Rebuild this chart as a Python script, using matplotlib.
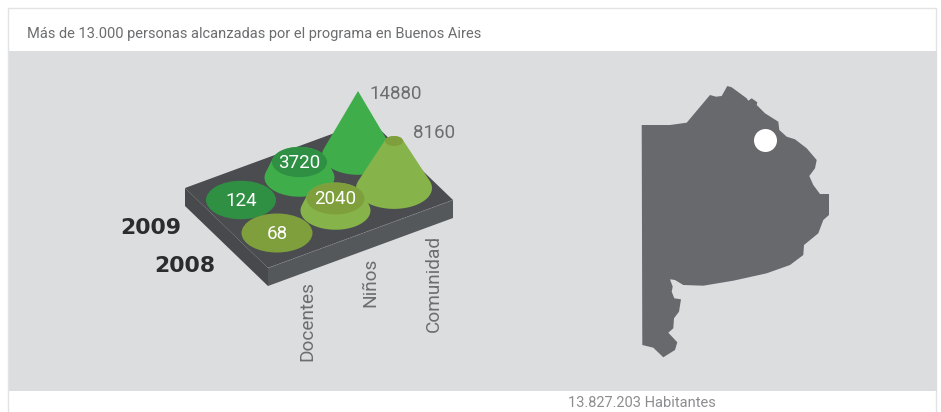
#!/usr/bin/env python3
"""Programa en Buenos Aires: isometric cones per year and group, plus province map"""

import matplotlib
matplotlib.use('Agg')
import matplotlib.pyplot as plt
import matplotlib.patches as patches
import numpy as np

plt.rcParams['font.family'] = ['Roboto', 'Liberation Sans', 'DejaVu Sans']

TITLE = 'Más de 13.000 personas alcanzadas por el programa en Buenos Aires'
FOOTER = '13.827.203 Habitantes'
CATEGORIES = ['Docentes', 'Niños', 'Comunidad']
YEARS = ['2008', '2009']
VALUES_2008 = [68, 2040, 8160]
VALUES_2009 = [124, 3720, 14880]

COLORS = {
    'page': '#FFFFFF',
    'frame': '#E2E3E4',
    'panel': '#DCDDDF',
    'board_top': '#4A4C4F',
    'board_left': '#47494C',
    'board_front': '#55585B',
    'map': '#68696D',
    'text': '#6C6D6F',
    'footer': '#8C8D8F',
    'year': '#2B2C2E',
    '2009_side': '#3FAE4A',
    '2009_top': '#2F9044',
    '2008_side': '#86B34A',
    '2008_top': '#7E9F3C',
}

# Board projection, in picture pixels
ORIGIN = np.array([277.0, 233.0])
CAT_STEP = np.array([58.5, -22.5])
YEAR_STEP = np.array([-36.0, -33.0])

# Scales from value to cone shape (the source graphic is not linear)
SCALE_VALUES = [68, 124, 2040, 3720, 8160, 14880]
SCALE_HEIGHT = [0, 0, 12, 15.5, 47, 64]
SCALE_TOP_RX = [35.5, 35, 29, 27.5, 9, 0]
SCALE_BASE_RX = [35.5, 35, 35, 35, 38, 36]
RY_RATIO = 0.55

# Province outline, traced in picture pixels
MAP_X = [641.7, 670, 686.7, 710, 716, 721.7, 727.3, 731.7, 746.7, 748.3, 751.7, 757.3,
         756.7, 765, 778.3, 779.3, 786.7, 795, 806.7, 816.7, 815, 809.3, 813.3, 820,
         829, 829, 823.3, 818.3, 804, 803.3, 790, 766.7, 733.3, 703.3, 683.3, 675,
         670, 672.7, 671.7, 674.3, 681, 679, 674, 673.3, 668.3, 677.3, 675, 663.3,
         653.3, 642.3]
MAP_Y = [125, 125, 122.7, 95, 96.7, 96, 86, 87.3, 98.3, 100.7, 98.3, 102.3,
         105, 113.3, 121.7, 130, 136.7, 139.3, 148.3, 160, 168.3, 176, 185, 194,
         194, 215, 220, 233.3, 245, 255, 265, 273.3, 280.7, 285.7, 285, 280,
         279.3, 286.7, 291.7, 298.3, 299.3, 311.7, 318.3, 328.3, 332.7, 342.3, 350, 357.3,
         347.7, 345]


def board_point(cat, year):
    return ORIGIN + cat * CAT_STEP + year * YEAR_STEP


def half_ellipse(cx, cy, rx, ry, start, end):
    t = np.linspace(start, end, 40)
    return np.column_stack([cx + rx * np.cos(t), cy + ry * np.sin(t)])


def draw_board(ax):
    front = np.array([268.0, 268.0])
    left = np.array([185.0, 188.0])
    right = np.array([453.0, 200.0])
    back = left + right - front
    depth = np.array([0.0, 18.0])
    ax.add_patch(patches.Polygon([left, front, front + depth, left + depth],
                                 facecolor=COLORS['board_left'], edgecolor='none'))
    ax.add_patch(patches.Polygon([front, right, right + depth, front + depth],
                                 facecolor=COLORS['board_front'], edgecolor='none'))
    ax.add_patch(patches.Polygon([left, front, right, back],
                                 facecolor=COLORS['board_top'], edgecolor='none'))
    ax.plot([front[0], right[0]], [front[1], right[1]], color='#8A8C8F',
            linewidth=0.5, linestyle=(0, (2, 1.5)))


def draw_cone(ax, cat, year, value):
    year_name = YEARS[year]
    cx, cy = board_point(cat, year)
    height = np.interp(value, SCALE_VALUES, SCALE_HEIGHT)
    top_rx = np.interp(value, SCALE_VALUES, SCALE_TOP_RX)
    base_rx = np.interp(value, SCALE_VALUES, SCALE_BASE_RX)
    top_y = cy - height

    if height > 0:
        # silhouette runs along the tangents of the two ellipses
        phi = np.arcsin((base_rx - top_rx) * RY_RATIO / height)
        lower = half_ellipse(cx, cy, base_rx, base_rx * RY_RATIO, -phi, np.pi + phi)
        upper = half_ellipse(cx, top_y, top_rx, top_rx * RY_RATIO, np.pi + phi, 2 * np.pi - phi)
        ax.add_patch(patches.Polygon(np.vstack([lower, upper]),
                                     facecolor=COLORS[year_name + '_side'], edgecolor='none'))
    if top_rx > 0:
        ax.add_patch(patches.Ellipse((cx, top_y), 2 * top_rx, 2 * top_rx * RY_RATIO,
                                     facecolor=COLORS[year_name + '_top'], edgecolor='none'))
    # small tops are too narrow for the number, it goes beside the cone
    if top_rx > 20:
        ax.text(cx, top_y + 0.5, str(value), color='white', fontsize=13.5,
                ha='center', va='center')
    elif top_rx > 0:
        ax.text(cx + 19, top_y - 8, str(value), color=COLORS['text'], fontsize=13.5,
                ha='left', va='center')
    else:
        ax.text(cx + 11, top_y + 3, str(value), color=COLORS['text'], fontsize=13.5,
                ha='left', va='center')


def main():
    fig = plt.figure(figsize=(9.41, 4.12), dpi=100, facecolor=COLORS['page'])
    ax = fig.add_axes([0, 0, 1, 1])
    ax.set_xlim(0, 941)
    ax.set_ylim(412, 0)
    ax.axis('off')

    # Frame and panel
    ax.add_patch(patches.Rectangle((8.5, 7.5), 928, 410, facecolor='white',
                                   edgecolor=COLORS['frame'], linewidth=1))
    ax.add_patch(patches.Rectangle((9, 51), 928, 339.5, facecolor=COLORS['panel'],
                                   edgecolor='none'))
    ax.text(27, 33.5, TITLE, color=COLORS['text'], fontsize=10.55, ha='left', va='center')
    ax.text(568, 403, FOOTER, color=COLORS['footer'], fontsize=10.5, ha='left', va='center')

    draw_board(ax)

    # Back to front so nearer cones cover the farther ones
    series = [VALUES_2008, VALUES_2009]
    order = [(2, 1), (1, 1), (2, 0), (0, 1), (1, 0), (0, 0)]
    for cat, year in order:
        draw_cone(ax, cat, year, series[year][cat])

    # Axis labels
    for i, name in enumerate(CATEGORIES):
        ax.text(307 + 63.5 * i, 281 - 23 * i, name, color=COLORS['text'], fontsize=13.7,
                rotation=90, ha='center', va='top')
    ax.text(151, 228, YEARS[1], color=COLORS['year'], fontsize=15.8, weight='bold',
            family='DejaVu Sans', ha='center', va='center')
    ax.text(185, 265.5, YEARS[0], color=COLORS['year'], fontsize=15.8, weight='bold',
            family='DejaVu Sans', ha='center', va='center')

    # Province map with the marked location
    ax.add_patch(patches.Polygon(np.column_stack([MAP_X, MAP_Y]),
                                 facecolor=COLORS['map'], edgecolor='none'))
    ax.add_patch(patches.Circle((765.5, 140.5), 11.5, facecolor='white', edgecolor='none'))

    fig.savefig('out.png', dpi=100, facecolor=COLORS['page'])


if __name__ == "__main__":
    main()
